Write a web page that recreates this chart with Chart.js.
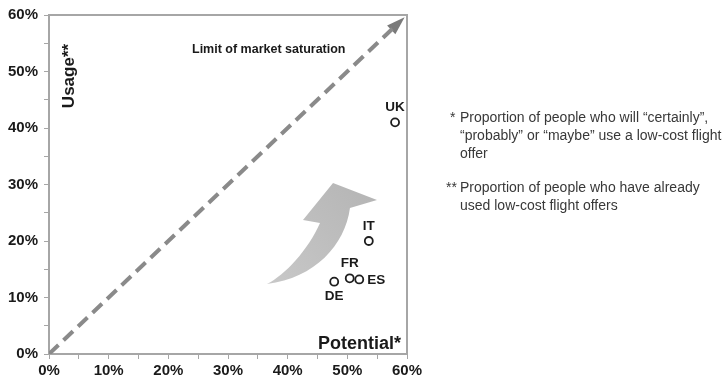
<!DOCTYPE html>
<html>
<head>
<meta charset="utf-8">
<script src="https://cdn.jsdelivr.net/npm/chart.js@4.4.1/dist/chart.umd.min.js"></script>
<style>
  html, body { margin: 0; padding: 0; background: #fff; }
  #wrap { position: relative; width: 723px; height: 387px; }
  #chart { position: absolute; left: 0; top: 0; }
  .note {
    position: absolute; left: 446px; width: 272px;
    font-family: "Liberation Sans", Arial, sans-serif; font-size: 14px; line-height: 18px;
    color: #383838; padding-left: 14px; text-indent: -14px;
  }
  .note .mark { display: inline-block; width: 14px; text-indent: 0; }
</style>
</head>
<body>
<div id="wrap">
  <canvas id="chart" width="723" height="387"></canvas>
  <div class="note" style="top: 108px;"><span class="mark">&nbsp;*</span>Proportion of people who will “certainly”, “probably” or “maybe” use a low-cost flight offer</div>
  <div class="note" style="top: 178px;"><span class="mark">**</span>Proportion of people who have already used low-cost flight offers</div>
</div>
<script>
// potential (x) vs. usage (y) per country, in percent
const countries = ['UK', 'IT', 'FR', 'ES', 'DE'];
const potential = [58, 53.6, 50.4, 52, 47.8];
const usage = [41, 20, 13.4, 13.2, 12.8];

// 45° saturation line, drawn up to where the arrowhead starts
const saturationLine = [0, 57.6];
const saturationTip = 59.6;

const axisTicks = [0, 10, 20, 30, 40, 50, 60];

const FONT = '"Liberation Sans", Arial, sans-serif';
const labelSide = { UK: 'above', IT: 'above', FR: 'above', ES: 'right', DE: 'below' };

const points = countries.map((c, i) => ({ x: potential[i], y: usage[i] }));

const decor = {
  id: 'decor',
  beforeDatasetsDraw(chart) {
    const { ctx, chartArea: a, scales: { x, y } } = chart;
    ctx.save();
    // top and right frame lines
    ctx.strokeStyle = '#a6a6a6';
    ctx.lineWidth = 2;
    ctx.beginPath();
    ctx.moveTo(a.left, a.top);
    ctx.lineTo(a.right, a.top);
    ctx.lineTo(a.right, a.bottom);
    ctx.stroke();

    // big grey growth arrow (curved body + head), placed in axis units
    const P = (px, py) => [x.getPixelForValue(px), y.getPixelForValue(py)];
    const tail = P(36.53, 12.39);
    const lc1 = P(39.55, 13.98), lc2 = P(43.41, 18.41), ln = P(45.42, 23.19);
    const lk = P(42.57, 23.72), top = P(47.6, 30.27), tip = P(54.97, 27.26);
    const rn = P(50.44, 25.84), rc1 = P(49.61, 19.29), rc2 = P(44.58, 13.45);
    const g = ctx.createLinearGradient(tail[0], tail[1], tip[0], top[1]);
    g.addColorStop(0, '#c8c8c8');
    g.addColorStop(1, '#b4b4b4');
    ctx.fillStyle = g;
    ctx.beginPath();
    ctx.moveTo(...tail);
    ctx.bezierCurveTo(...lc1, ...lc2, ...ln);
    ctx.lineTo(...lk);
    ctx.lineTo(...top);
    ctx.lineTo(...tip);
    ctx.lineTo(...rn);
    ctx.bezierCurveTo(...rc1, ...rc2, ...tail);
    ctx.closePath();
    ctx.fill();

    // arrowhead on the saturation line
    const b = P(saturationLine[1], saturationLine[1]);
    const t = P(saturationTip, saturationTip);
    const ang = Math.atan2(t[1] - b[1], t[0] - b[0]);
    const len = Math.hypot(t[0] - b[0], t[1] - b[1]) + 2;
    ctx.fillStyle = '#7a7a7a';
    ctx.beginPath();
    ctx.moveTo(...t);
    ctx.lineTo(t[0] - len * Math.cos(ang) + 6 * Math.sin(ang), t[1] - len * Math.sin(ang) - 6 * Math.cos(ang));
    ctx.lineTo(t[0] - len * Math.cos(ang) - 6 * Math.sin(ang), t[1] - len * Math.sin(ang) + 6 * Math.cos(ang));
    ctx.closePath();
    ctx.fill();

    // annotations
    ctx.fillStyle = '#1a1a1a';
    ctx.font = 'bold 12.5px ' + FONT;
    ctx.textAlign = 'left';
    ctx.textBaseline = 'middle';
    ctx.fillText('Limit of market saturation', 192, 50);

    ctx.font = 'bold 18px ' + FONT;
    ctx.textAlign = 'right';
    ctx.fillText('Potential*', a.right - 6, a.bottom - 10);

    ctx.font = 'bold 17px ' + FONT;
    ctx.save();
    ctx.translate(69, 76);
    ctx.rotate(-Math.PI / 2);
    ctx.textAlign = 'center';
    ctx.fillText('Usage**', 0, 0);
    ctx.restore();
    ctx.restore();
  },
  afterDatasetsDraw(chart) {
    const { ctx, scales: { x, y } } = chart;
    ctx.save();
    ctx.fillStyle = '#1a1a1a';
    ctx.font = 'bold 13.5px ' + FONT;
    ctx.textBaseline = 'middle';
    countries.forEach((c, i) => {
      const px = x.getPixelForValue(potential[i]);
      const py = y.getPixelForValue(usage[i]);
      const side = labelSide[c];
      if (side === 'right') {
        ctx.textAlign = 'left';
        ctx.fillText(c, px + 8, py + 1);
      } else {
        ctx.textAlign = 'center';
        ctx.fillText(c, px, side === 'above' ? py - 15 : py + 15);
      }
    });
    ctx.restore();
  }
};

const tickFormat = v => (axisTicks.includes(v) ? v + '%' : '');

new Chart(document.getElementById('chart'), {
  type: 'scatter',
  data: {
    datasets: [
      {
        type: 'line',
        data: saturationLine.map(v => ({ x: v, y: v })),
        borderColor: '#8a8a8a',
        borderWidth: 4,
        borderDash: [13, 7],
        pointRadius: 0,
        fill: false
      },
      {
        data: points,
        pointRadius: 4,
        pointBackgroundColor: '#ffffff',
        pointBorderColor: '#1e1e1e',
        pointBorderWidth: 1.8
      }
    ]
  },
  options: {
    responsive: false,
    animation: false,
    layout: { padding: { top: 15, right: 316, bottom: 0, left: 0 } },
    plugins: { legend: { display: false }, tooltip: { enabled: false } },
    scales: {
      x: {
        type: 'linear', min: 0, max: 60,
        afterFit: s => { s.height = 33; },
        grid: { drawOnChartArea: false, drawTicks: true, tickLength: 5, tickColor: '#a6a6a6' },
        border: { color: '#a6a6a6', width: 2 },
        ticks: {
          stepSize: 5, autoSkip: false, maxRotation: 0, padding: 3,
          color: '#1a1a1a', font: { family: FONT, size: 15, weight: 'bold' },
          callback: tickFormat
        }
      },
      y: {
        type: 'linear', min: 0, max: 60,
        afterFit: s => { s.width = 49; },
        grid: { drawOnChartArea: false, drawTicks: true, tickLength: 5, tickColor: '#a6a6a6' },
        border: { color: '#a6a6a6', width: 2 },
        ticks: {
          stepSize: 5, autoSkip: false, padding: 6,
          color: '#1a1a1a', font: { family: FONT, size: 15, weight: 'bold' },
          callback: tickFormat
        }
      }
    }
  },
  plugins: [decor]
});
</script>
</body>
</html>
